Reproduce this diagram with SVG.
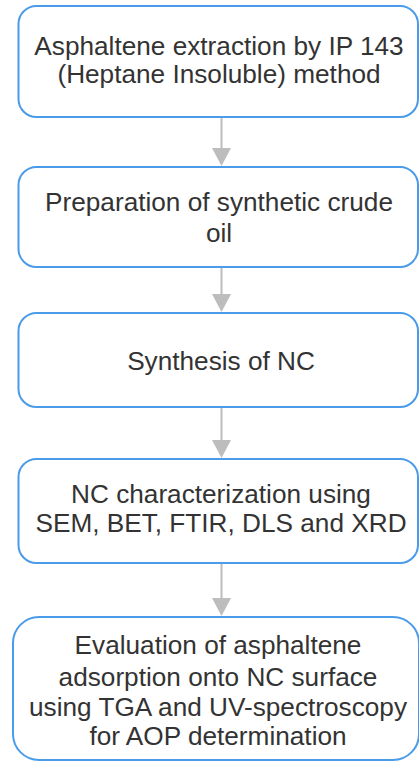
<svg xmlns="http://www.w3.org/2000/svg" width="419" height="761" viewBox="0 0 419 761">
<defs>
<style>
.box{fill:#ffffff;stroke:#4a9be9;stroke-width:2}
.t{font-family:"Liberation Sans",Arial,sans-serif;font-size:26.2px;fill:#333333;text-anchor:middle}
.c{stroke:#bdbdbd;stroke-width:2;fill:none}
.h{fill:#bdbdbd;stroke:none}
</style>
</defs>
<rect width="419" height="761" fill="#ffffff"/>
<g id="connectors">
<line class="c" x1="221.5" y1="117" x2="221.5" y2="150"/>
<polygon class="h" points="212,148 231,148 221.5,166"/>
<line class="c" x1="221.5" y1="267" x2="221.5" y2="296"/>
<polygon class="h" points="212,294 231,294 221.5,312"/>
<line class="c" x1="221.5" y1="407" x2="221.5" y2="442"/>
<polygon class="h" points="212,440 231,440 221.5,458"/>
<line class="c" x1="221.5" y1="563" x2="221.5" y2="600"/>
<polygon class="h" points="212,598 231,598 221.5,616"/>
</g>
<g id="n1">
<rect class="box" x="18.5" y="6" width="399.5" height="111" rx="18"/>
<text class="t" x="219" y="54.5">Asphaltene extraction by IP 143</text>
<text class="t" x="219" y="82.5">(Heptane Insoluble) method</text>
</g>
<g id="n2">
<rect class="box" x="18.5" y="167" width="399.5" height="100" rx="18"/>
<text class="t" x="219" y="211">Preparation of synthetic crude</text>
<text class="t" x="219" y="241.5">oil</text>
</g>
<g id="n3">
<rect class="box" x="18.5" y="313" width="399.5" height="94" rx="18"/>
<text class="t" x="221" y="369.5">Synthesis of NC</text>
</g>
<g id="n4">
<rect class="box" x="18.5" y="459" width="399.5" height="104" rx="18"/>
<text class="t" x="221" y="503">NC characterization using</text>
<text class="t" x="221" y="532">SEM, BET, FTIR, DLS and XRD</text>
</g>
<g id="n5">
<rect class="box" x="13" y="617" width="406" height="143" rx="26"/>
<text class="t" x="218" y="654">Evaluation of asphaltene</text>
<text class="t" x="218" y="686">adsorption onto NC surface</text>
<text class="t" x="218" y="715.5">using TGA and UV-spectroscopy</text>
<text class="t" x="218" y="745">for AOP determination</text>
</g>
</svg>
